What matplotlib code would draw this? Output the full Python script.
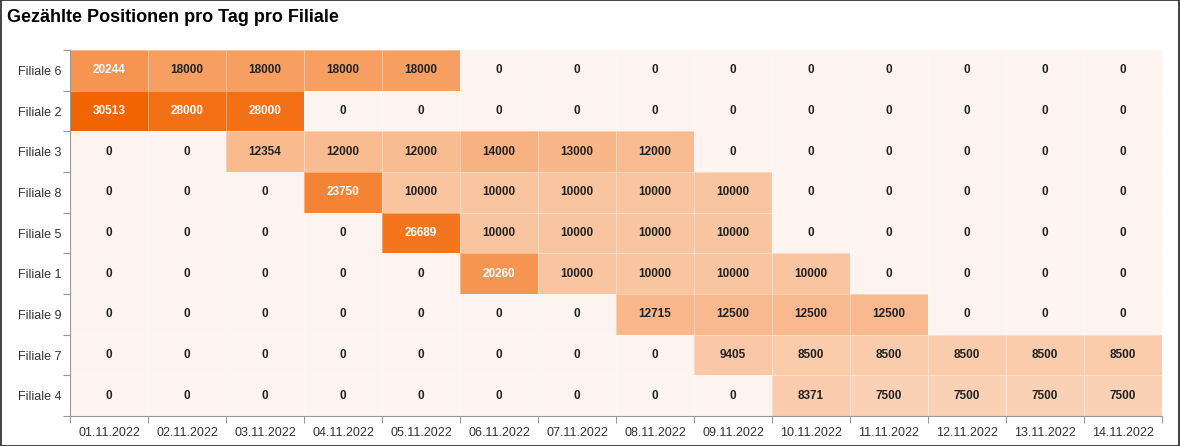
import numpy as np
import matplotlib.pyplot as plt
from matplotlib.colors import LinearSegmentedColormap
from matplotlib.patches import Rectangle

plt.rcParams['font.family'] = ['Liberation Sans', 'DejaVu Sans']

# ------------------------------------------------------------
# Daten
# ------------------------------------------------------------
dates = ['01.11.2022', '02.11.2022', '03.11.2022', '04.11.2022', '05.11.2022',
         '06.11.2022', '07.11.2022', '08.11.2022', '09.11.2022', '10.11.2022',
         '11.11.2022', '12.11.2022', '13.11.2022', '14.11.2022']
filialen = ['Filiale 6', 'Filiale 2', 'Filiale 3', 'Filiale 8', 'Filiale 5',
            'Filiale 1', 'Filiale 9', 'Filiale 7', 'Filiale 4']

filiale_6 = [20244, 18000, 18000, 18000, 18000, 0, 0, 0, 0, 0, 0, 0, 0, 0]
filiale_2 = [30513, 28000, 28000, 0, 0, 0, 0, 0, 0, 0, 0, 0, 0, 0]
filiale_3 = [0, 0, 12354, 12000, 12000, 14000, 13000, 12000, 0, 0, 0, 0, 0, 0]
filiale_8 = [0, 0, 0, 23750, 10000, 10000, 10000, 10000, 10000, 0, 0, 0, 0, 0]
filiale_5 = [0, 0, 0, 0, 26689, 10000, 10000, 10000, 10000, 0, 0, 0, 0, 0]
filiale_1 = [0, 0, 0, 0, 0, 20260, 10000, 10000, 10000, 10000, 0, 0, 0, 0]
filiale_9 = [0, 0, 0, 0, 0, 0, 0, 12715, 12500, 12500, 12500, 0, 0, 0]
filiale_7 = [0, 0, 0, 0, 0, 0, 0, 0, 9405, 8500, 8500, 8500, 8500, 8500]
filiale_4 = [0, 0, 0, 0, 0, 0, 0, 0, 0, 8371, 7500, 7500, 7500, 7500]

values = np.array([filiale_6, filiale_2, filiale_3, filiale_8, filiale_5,
                   filiale_1, filiale_9, filiale_7, filiale_4])

# ------------------------------------------------------------
# Plot
# ------------------------------------------------------------
cmap = LinearSegmentedColormap.from_list('orange', ['#fdf4ef', '#f26400'])

fig = plt.figure(figsize=(11.8, 4.46), dpi=100)
ax = fig.add_axes([70 / 1180, 30 / 446, 1092 / 1180, 366 / 446])

n_rows, n_cols = values.shape
ax.pcolormesh(np.arange(n_cols + 1), np.arange(n_rows + 1), values,
              cmap=cmap, vmin=0, vmax=values.max(),
              edgecolors=(1, 1, 1, 0.35), linewidth=0.5)
ax.set_xlim(0, n_cols)
ax.set_ylim(n_rows, 0)

for i in range(n_rows):
    for j in range(n_cols):
        v = values[i, j]
        ax.text(j + 0.5, i + 0.5, str(v), ha='center', va='center',
                fontsize=8.5, fontweight='bold',
                color='white' if v >= 20000 else '#222222')

# Ticks an den Zellgrenzen, Beschriftung in der Mitte
ax.set_xticks(np.arange(n_cols + 1))
ax.set_yticks(np.arange(n_rows + 1))
ax.set_xticklabels([])
ax.set_yticklabels([])
ax.set_xticks(np.arange(n_cols) + 0.5, minor=True)
ax.set_yticks(np.arange(n_rows) + 0.5, minor=True)
ax.set_xticklabels(dates, minor=True, fontsize=9, color='#333333')
ax.set_yticklabels(filialen, minor=True, fontsize=9, color='#333333')
ax.tick_params(which='major', length=5, color='#999999')
ax.tick_params(which='minor', length=0)
ax.tick_params(axis='x', which='minor', pad=8)
ax.tick_params(axis='y', which='minor', pad=6)

for side in ['top', 'right']:
    ax.spines[side].set_visible(False)
for side in ['left', 'bottom']:
    ax.spines[side].set_color('#999999')
    ax.spines[side].set_linewidth(0.8)

fig.text(7 / 1180, 1 - 17 / 446, 'Gezählte Positionen pro Tag pro Filiale',
         fontsize=13, fontweight='bold', va='center', ha='left')

# Rahmen um die Grafik
fig.patches.append(Rectangle((0.0005, 0.001), 0.999, 0.998, transform=fig.transFigure,
                             fill=False, edgecolor='#222222', linewidth=1.2))

fig.savefig('out.png', dpi=100)
